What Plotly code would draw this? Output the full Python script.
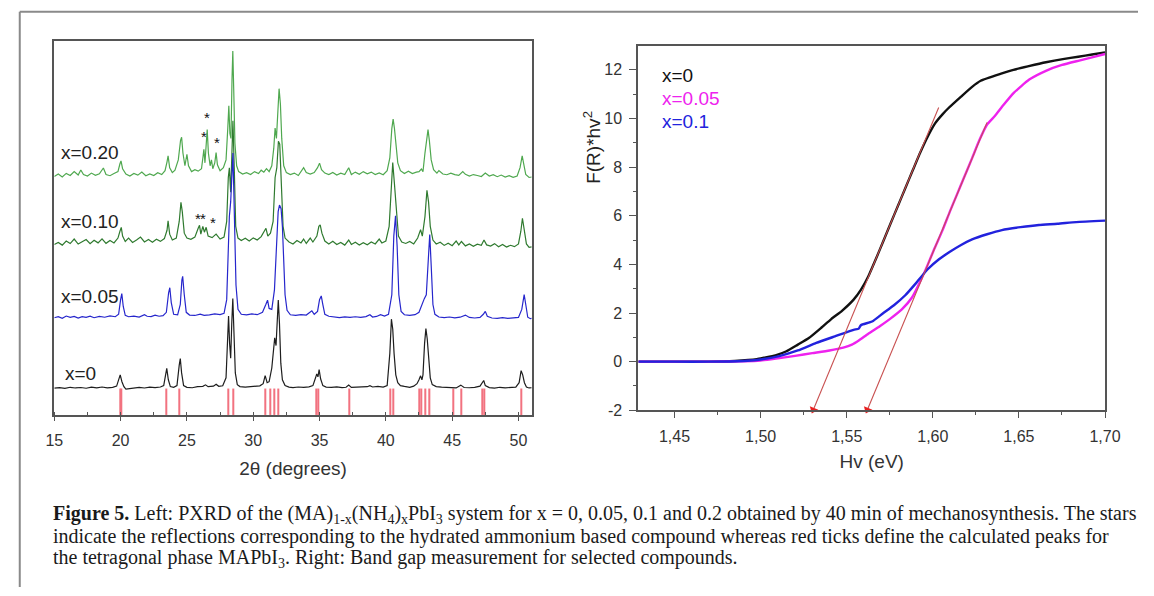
import math
import plotly.graph_objects as go

W, H = 1154, 596


def px2x(px):
    return px / W


def py2y(py):
    return 1 - py / H


# ---------------- Left panel: PXRD patterns (2theta, intensity in arbitrary units) ----------------
xrd_x0 = [(15.0, 24.5), (15.4, 25.0), (15.8, 24.2), (16.2, 25.3), (16.6, 24.6), (17.0, 25.1), (17.4, 24.3),
          (17.8, 25.4), (18.2, 24.8), (18.6, 25.6), (19.0, 24.7), (19.4, 25.2), (19.7, 26.5), (19.85, 32),
          (19.97, 38), (20.1, 31), (20.25, 26), (20.4, 23.5), (20.6, 24.0), (21.0, 24.8), (21.4, 25.3),
          (21.8, 24.6), (22.2, 25.4), (22.6, 24.9), (23.0, 25.6), (23.25, 27), (23.4, 38), (23.48, 44.7),
          (23.6, 33), (23.75, 26), (24.0, 25.3), (24.25, 27), (24.42, 48), (24.5, 54.7), (24.6, 40),
          (24.75, 27), (25.0, 25.2), (25.4, 24.8), (25.8, 25.9), (26.2, 26.3), (26.4, 27.8), (26.6, 25.9),
          (27.0, 26.5), (27.2, 28.5), (27.4, 26.3), (27.7, 26.8), (27.95, 35), (28.08, 80), (28.14, 98.3),
          (28.22, 70), (28.3, 55), (28.38, 90), (28.46, 116.1), (28.55, 80), (28.65, 40), (28.8, 28),
          (29.0, 26), (29.4, 25.4), (29.8, 25.9), (30.2, 26.1), (30.5, 26.8), (30.75, 29), (30.9, 37.3),
          (31.05, 30), (31.2, 31), (31.4, 45), (31.55, 70), (31.62, 75.9), (31.72, 68), (31.8, 95),
          (31.89, 114.5), (31.98, 90), (32.08, 50), (32.2, 33), (32.4, 27), (32.7, 25.5), (33.0, 25.0),
          (33.4, 25.6), (33.8, 25.2), (34.2, 25.8), (34.5, 27), (34.7, 35), (34.79, 39), (34.88, 36),
          (34.97, 43.3), (35.08, 34), (35.25, 27), (35.5, 25.5), (35.9, 25.2), (36.3, 25.8), (36.7, 25.0),
          (37.0, 25.3), (37.2, 27.5), (37.4, 25.2), (37.8, 25.4), (38.2, 25.0), (38.6, 25.9), (38.8, 27),
          (39.0, 25.6), (39.4, 26.3), (39.8, 25.5), (40.1, 27), (40.3, 60), (40.42, 95), (40.52, 85),
          (40.62, 60), (40.75, 38), (40.9, 30), (41.1, 27), (41.4, 26.2), (41.8, 25.3), (42.1, 26.5),
          (42.35, 29), (42.5, 33), (42.62, 37), (42.72, 33), (42.8, 38), (42.92, 70), (43.02, 85.3),
          (43.12, 75), (43.22, 55), (43.35, 35), (43.5, 28), (43.8, 26), (44.2, 25.4), (44.6, 25.0),
          (45.0, 25.3), (45.3, 24.6), (45.65, 27.5), (45.9, 25.1), (46.3, 24.8), (46.7, 25.2), (47.1, 26.5),
          (47.3, 31), (47.38, 32.2), (47.5, 27), (47.8, 25.0), (48.2, 24.5), (48.6, 25.3), (49.0, 24.7),
          (49.4, 25.0), (49.8, 25.5), (50.05, 30), (50.2, 42.3), (50.32, 38), (50.45, 30), (50.6, 25.5),
          (50.8, 24.6), (51.0, 24.8)]

xrd_x005 = [(15.0, 96.5), (15.3, 97.5), (15.6, 95.8), (15.9, 98.2), (16.2, 96.8), (16.5, 97.9), (16.8, 96.2),
            (17.1, 97.6), (17.4, 96.9), (17.7, 98.0), (18.0, 96.5), (18.4, 97.8), (18.8, 97.0), (19.2, 98.3),
            (19.6, 97.5), (19.85, 100), (20.0, 115), (20.09, 121.2), (20.2, 108), (20.35, 99), (20.6, 97.5),
            (21.0, 98.2), (21.4, 97.2), (21.8, 99.5), (22.0, 98), (22.3, 97.6), (22.6, 99.2), (22.9, 98),
            (23.2, 98.6), (23.45, 102), (23.62, 122), (23.71, 127.2), (23.82, 112), (24.0, 100), (24.3, 99.5),
            (24.5, 110), (24.62, 135), (24.68, 138.9), (24.8, 120), (24.95, 102), (25.2, 99.2), (25.6, 98.8),
            (26.0, 100.2), (26.3, 99), (26.7, 99.5), (27.1, 100.5), (27.5, 99.6), (27.8, 101), (28.0, 115),
            (28.12, 170), (28.2, 200), (28.3, 215), (28.4, 255), (28.47, 265), (28.58, 200), (28.7, 130),
            (28.85, 105), (29.1, 100), (29.5, 99.5), (29.9, 100.4), (30.3, 99.6), (30.7, 102), (30.95, 110),
            (31.08, 114.5), (31.2, 106), (31.4, 105), (31.6, 125), (31.75, 175), (31.88, 205), (31.98, 211.8),
            (32.1, 208), (32.2, 190), (32.3, 150), (32.4, 120), (32.55, 104), (32.8, 99.5), (33.2, 98.9),
            (33.6, 99.6), (34.0, 99.2), (34.3, 102), (34.42, 103.5), (34.6, 100), (34.85, 103), (35.0, 115),
            (35.13, 118.8), (35.25, 110), (35.4, 100), (35.7, 98.0), (36.1, 97.2), (36.5, 96.5), (36.9, 97.3),
            (37.3, 96.8), (37.7, 97.5), (38.1, 96.9), (38.5, 97.6), (38.8, 99.5), (39.0, 97.2), (39.3, 97.8),
            (39.6, 99.6), (39.9, 98.2), (40.2, 100), (40.45, 120), (40.6, 180), (40.73, 200.7), (40.85, 170),
            (40.98, 120), (41.15, 103), (41.4, 99.5), (41.8, 98.8), (42.2, 99.6), (42.5, 102), (42.75, 112),
            (42.9, 116), (43.05, 120), (43.18, 155), (43.31, 181.6), (43.42, 150), (43.55, 110), (43.7, 100),
            (44.0, 97.2), (44.4, 96.6), (44.8, 97.2), (45.2, 96.4), (45.6, 97.0), (46.0, 99.2), (46.3, 96.8),
            (46.7, 96.2), (47.1, 96.8), (47.35, 100), (47.5, 103), (47.65, 98), (48.0, 96.2), (48.4, 95.8),
            (48.8, 96.6), (49.2, 95.9), (49.6, 96.2), (50.0, 96.8), (50.25, 105), (50.43, 120.2), (50.55, 110),
            (50.7, 97), (50.9, 95.5), (51.0, 95.8)]

xrd_x010 = [(15.0, 171.5), (15.3, 173.5), (15.6, 170.8), (15.9, 175), (16.2, 172.4), (16.5, 177), (16.8, 171.9),
            (17.1, 174.5), (17.4, 176.5), (17.7, 172.2), (18.0, 175.8), (18.3, 173.1), (18.6, 177.2),
            (18.9, 172.6), (19.2, 175.5), (19.5, 173), (19.8, 178), (19.95, 185), (20.05, 189), (20.15, 180),
            (20.35, 174.5), (20.6, 178), (20.9, 173.5), (21.2, 176), (21.5, 179), (21.8, 174), (22.1, 176.5),
            (22.4, 173.8), (22.7, 176.8), (23.0, 174.6), (23.3, 177.5), (23.5, 186), (23.58, 195.7),
            (23.7, 182), (23.9, 176), (24.2, 178), (24.42, 195), (24.55, 214.5), (24.65, 205), (24.8, 183),
            (25.0, 178), (25.3, 176.8), (25.6, 179), (25.85, 188), (25.95, 191), (26.05, 182), (26.2, 190),
            (26.32, 184), (26.45, 189), (26.6, 180), (26.9, 178.5), (27.2, 182), (27.5, 177), (27.8, 179),
            (28.0, 195), (28.12, 240), (28.2, 250), (28.3, 225), (28.38, 270), (28.47, 298), (28.57, 250),
            (28.68, 190), (28.85, 178), (29.1, 175.5), (29.4, 177.8), (29.7, 175), (30.0, 178.2), (30.3, 176),
            (30.6, 179.5), (30.85, 185), (30.96, 188), (31.1, 180), (31.3, 183), (31.5, 195), (31.65, 240),
            (31.78, 250), (31.9, 277), (32.0, 274), (32.12, 230), (32.25, 190), (32.4, 178), (32.7, 174),
            (33.0, 172), (33.3, 175.5), (33.6, 173), (33.8, 177), (34.0, 172.5), (34.3, 178), (34.5, 174),
            (34.8, 180), (34.95, 190), (35.05, 191.6), (35.18, 183), (35.4, 175), (35.7, 172), (36.0, 174.8),
            (36.3, 171.5), (36.6, 173.5), (36.9, 170.8), (37.2, 176), (37.4, 171.5), (37.7, 173.8),
            (38.0, 170.9), (38.3, 173.2), (38.6, 171.2), (38.9, 174), (39.2, 172), (39.5, 177), (39.7, 173),
            (40.0, 175), (40.25, 190), (40.4, 230), (40.52, 255.4), (40.64, 235), (40.78, 205), (40.95, 180),
            (41.2, 174), (41.5, 172.5), (41.8, 174.6), (42.1, 172), (42.4, 178), (42.62, 186.6), (42.75, 180),
            (42.95, 200), (43.1, 226.9), (43.22, 215), (43.35, 190), (43.55, 176), (43.8, 172), (44.1, 173.8),
            (44.4, 170.5), (44.7, 172.8), (45.0, 170.2), (45.3, 175), (45.5, 171), (45.7, 174.5), (46.0, 170),
            (46.3, 172), (46.6, 169.5), (46.9, 171.8), (47.2, 170.6), (47.4, 176), (47.6, 171), (47.9, 169.8),
            (48.2, 172.3), (48.5, 169.2), (48.8, 171.5), (49.1, 168.8), (49.4, 170.6), (49.7, 169.2),
            (50.0, 172), (50.18, 185), (50.3, 198.3), (50.42, 188), (50.6, 172), (50.8, 168.5), (51.0, 169)]

xrd_x020 = [(15.0, 241), (15.3, 243.5), (15.6, 240.5), (15.9, 244.2), (16.2, 242), (16.5, 246), (16.8, 242.5),
            (17.0, 247.7), (17.2, 243), (17.5, 241.5), (17.8, 244.5), (18.1, 242.2), (18.4, 243.8),
            (18.7, 249.7), (18.9, 243), (19.2, 241.8), (19.5, 244), (19.8, 246), (19.95, 254), (20.03, 257),
            (20.15, 249), (20.4, 243.5), (20.7, 241.5), (21.0, 244.2), (21.3, 242.4), (21.6, 245.5),
            (21.9, 241.8), (22.2, 243.6), (22.5, 242), (22.8, 244.8), (23.1, 243), (23.35, 247), (23.5, 256),
            (23.58, 262.1), (23.7, 250), (23.9, 245), (24.1, 247.5), (24.35, 258), (24.52, 278), (24.6, 281.2),
            (24.7, 265), (24.85, 252), (25.0, 263.8), (25.12, 252), (25.35, 246), (25.6, 248), (25.85, 246.5),
            (26.1, 249), (26.22, 262), (26.28, 268.8), (26.36, 255), (26.45, 270), (26.53, 289), (26.62, 265),
            (26.75, 252), (26.85, 258), (26.95, 249), (27.1, 255), (27.2, 265.5), (27.3, 253), (27.5, 247),
            (27.75, 250), (27.95, 258), (28.08, 290), (28.16, 313.4), (28.24, 285), (28.32, 280), (28.4, 340),
            (28.46, 369.5), (28.53, 330), (28.62, 275), (28.75, 252), (28.9, 246), (29.2, 243.5), (29.5, 245),
            (29.8, 243), (30.1, 246), (30.4, 244), (30.6, 247.5), (30.8, 245.5), (31.0, 249), (31.2, 246),
            (31.4, 252), (31.55, 270), (31.65, 290.6), (31.75, 280), (31.85, 310), (31.95, 330.9), (32.05, 315),
            (32.15, 280), (32.3, 252), (32.5, 245), (32.8, 243), (33.1, 244.5), (33.4, 242), (33.6, 246),
            (33.8, 250), (34.0, 245), (34.3, 243.5), (34.6, 245), (34.85, 250), (35.0, 254.7), (35.15, 248),
            (35.4, 244.5), (35.7, 243), (36.0, 245.2), (36.3, 242.5), (36.6, 244.4), (36.9, 243), (37.2, 250),
            (37.4, 243), (37.7, 245.5), (38.0, 243.2), (38.3, 246), (38.6, 243.8), (38.9, 245.5), (39.2, 243),
            (39.5, 244.6), (39.8, 242.8), (40.1, 247), (40.3, 260), (40.45, 290), (40.55, 299.7), (40.65, 290),
            (40.78, 275), (40.9, 255), (41.1, 247), (41.4, 244), (41.7, 246.5), (42.0, 244), (42.3, 245.5),
            (42.5, 246), (42.68, 248.7), (42.8, 246), (42.95, 265), (43.1, 285), (43.18, 289), (43.28, 278),
            (43.42, 258), (43.6, 248), (43.85, 244.5), (44.0, 247), (44.3, 243.5), (44.6, 242.8), (44.9, 244.5),
            (45.2, 243), (45.5, 242.2), (45.8, 246), (46.0, 243.2), (46.3, 241.5), (46.6, 243), (46.9, 242),
            (47.2, 241), (47.5, 244.5), (47.8, 241.5), (48.1, 242.8), (48.4, 240.8), (48.7, 242.5), (49.0, 240.5),
            (49.3, 241.8), (49.6, 240.2), (49.9, 241.5), (50.12, 250), (50.28, 262.1), (50.4, 255),
            (50.55, 243), (50.8, 240), (51.0, 240.5)]

# calculated reflections of tetragonal MAPbI3 (red ticks)
ref_ticks = [19.95, 20.05, 23.45, 24.45, 28.12, 28.5, 30.91, 31.31, 31.62, 31.89, 34.79, 34.92, 37.22,
             40.33, 40.59, 42.52, 42.65, 42.97, 43.31, 45.08, 45.72, 47.3, 47.45, 50.24]
ref_tick_height = 24.0

xrd_labels = ["x=0.20", "x=0.10", "x=0.05", "x=0"]
xrd_label_pos = [(15.35, 266), (15.35, 195), (15.35, 118), (15.65, 39)]

stars = [(26.27, 282), (26.55, 301), (27.3, 275.5), (25.85, 198), (26.2, 198), (26.95, 193.5)]

xrd_ticks = [15, 20, 25, 30, 35, 40, 45, 50]

# ---------------- Right panel: band gap ----------------
bg_x0 = [(1.429, 0), (1.45, 0), (1.47, 0.0), (1.485, 0.03), (1.4978, 0.1), (1.502, 0.16), (1.5086, 0.26),
         (1.515, 0.43), (1.5216, 0.7), (1.528, 0.97), (1.5345, 1.35), (1.541, 1.75), (1.5474, 2.1),
         (1.554, 2.55), (1.5582, 2.95), (1.5625, 3.5), (1.5668, 4.2), (1.5711, 4.93), (1.5754, 5.67),
         (1.5797, 6.4), (1.584, 7.13), (1.5884, 7.88), (1.5927, 8.6), (1.597, 9.25), (1.6013, 9.8),
         (1.6056, 10.17), (1.609, 10.42), (1.6164, 10.9), (1.6228, 11.3), (1.6278, 11.55), (1.6401, 11.85),
         (1.6468, 12.0), (1.6557, 12.15), (1.6657, 12.31), (1.6755, 12.44), (1.6845, 12.54), (1.6925, 12.63),
         (1.70, 12.72)]

bg_x005 = [(1.429, 0), (1.45, 0), (1.47, 0.0), (1.49, 0.02), (1.50, 0.05), (1.51, 0.14), (1.52, 0.24),
           (1.53, 0.35), (1.54, 0.46), (1.548, 0.58), (1.553, 0.7), (1.557, 0.87), (1.5625, 1.15),
           (1.569, 1.45), (1.575, 1.75), (1.582, 2.15), (1.588, 2.65), (1.5937, 3.45), (1.597, 3.98),
           (1.601, 4.66), (1.6056, 5.4), (1.61, 6.19), (1.614, 6.87), (1.618, 7.55), (1.623, 8.4),
           (1.627, 9.1), (1.6315, 9.75), (1.636, 10.1), (1.641, 10.55), (1.647, 11.05), (1.656, 11.6),
           (1.666, 11.97), (1.675, 12.2), (1.685, 12.38), (1.693, 12.52), (1.70, 12.65)]

bg_x01 = [(1.429, 0), (1.45, 0), (1.47, 0.0), (1.49, 0.03), (1.4978, 0.07), (1.5108, 0.23), (1.5216, 0.46),
          (1.5323, 0.77), (1.5431, 1.04), (1.554, 1.31), (1.557, 1.36), (1.5582, 1.5), (1.5647, 1.65),
          (1.5711, 1.99), (1.5776, 2.33), (1.584, 2.73), (1.5905, 3.25), (1.597, 3.8), (1.6034, 4.2),
          (1.6099, 4.52), (1.6164, 4.8), (1.6228, 5.03), (1.6315, 5.24), (1.6401, 5.41), (1.6509, 5.53),
          (1.6616, 5.62), (1.6724, 5.67), (1.6832, 5.74), (1.70, 5.8)]

tangent_start = [(1.6034, 10.45), (1.6315, 9.84)]
tangent_end = [(1.5306, -1.98), (1.5620, -1.98)]

bg_labels = ["x=0", "x=0.05", "x=0.1"]
bg_label_y = [11.77, 10.82, 9.88]
bg_label_x = 1.4418

bg_xticks = [1.45, 1.50, 1.55, 1.60, 1.65, 1.70]
bg_xticktext = ["1,45", "1,50", "1,55", "1,60", "1,65", "1,70"]
bg_yticks = [-2, 0, 2, 4, 6, 8, 10, 12]
bg_yticktext = ["-2", "0", "2", "4", "6", "8", "10", "12"]

# ---------------- Figure ----------------
FONT = "Liberation Sans, Arial, sans-serif"
AXC = "#555555"
XRD_YMIN, XRD_YMAX = -3.0, 379.6
X1_DOM = [px2x(46.3), px2x(534.3)]
Y1_DOM = [py2y(421.3), py2y(41.7)]
X2_RANGE = [1.429, 1.70]
Y2_RANGE = [-2, 12.98]
X2_DOM = [px2x(643.3), px2x(1120.3)]
Y2_DOM = [py2y(416.6), py2y(46.7)]

fig = go.Figure()


def unzip(pairs):
    return [p[0] for p in pairs], [p[1] for p in pairs]


# red reference ticks
fig.add_trace(go.Bar(x=ref_ticks, y=[ref_tick_height - XRD_YMIN] * len(ref_ticks), base=XRD_YMIN,
                     width=0.09, marker=dict(color="#f05a6a", line=dict(width=0)), opacity=0.85,
                     xaxis="x", yaxis="y", showlegend=False, hoverinfo="skip"))

for pairs, col in [(xrd_x0, "#1e1e1e"), (xrd_x010, "#2f7a2f"), (xrd_x005, "#2626cc"), (xrd_x020, "#4fa84f")]:
    xs, ys = unzip(pairs)
    fig.add_trace(go.Scatter(x=xs, y=ys, mode="lines", line=dict(color=col, width=1.2),
                             xaxis="x", yaxis="y", showlegend=False))

for pairs, col in [(bg_x0, "#111111"), (bg_x005, "#ee22ee"), (bg_x01, "#2222dd")]:
    xs, ys = unzip(pairs)
    fig.add_trace(go.Scatter(x=xs, y=ys, mode="lines", line=dict(color=col, width=2.4, shape="spline",
                                                                 smoothing=0.5),
                             xaxis="x2", yaxis="y2", showlegend=False))

# tangent lines with arrow heads
px_per_x = (X2_DOM[1] - X2_DOM[0]) * W / (X2_RANGE[1] - X2_RANGE[0])
px_per_y = (Y2_DOM[1] - Y2_DOM[0]) * H / (Y2_RANGE[1] - Y2_RANGE[0])
for (sx, sy), (ex, ey) in zip(tangent_start, tangent_end):
    fig.add_trace(go.Scatter(x=[sx, ex], y=[sy, ey], mode="lines", line=dict(color="#c85050", width=1.1),
                             xaxis="x2", yaxis="y2", showlegend=False, hoverinfo="skip"))
    ang = math.degrees(math.atan2((sx - ex) * px_per_x, (sy - ey) * px_per_y))
    fig.add_trace(go.Scatter(x=[ex], y=[ey], mode="markers",
                             marker=dict(symbol="triangle-down", size=8, color="#e82020", angle=ang,
                                         line=dict(width=0)),
                             xaxis="x2", yaxis="y2", showlegend=False, hoverinfo="skip", cliponaxis=False))

annotations = []
for txt, (xx, yy) in zip(xrd_labels, xrd_label_pos):
    annotations.append(dict(x=xx, y=yy, xref="x", yref="y", text=txt, showarrow=False, xanchor="left",
                            yanchor="middle", font=dict(family=FONT, size=19, color="#222")))
for (xx, yy) in stars:
    annotations.append(dict(x=xx, y=yy, xref="x", yref="y", text="*", showarrow=False, xanchor="center",
                            yanchor="middle", font=dict(family=FONT, size=15, color="#111")))

for txt, yy, col in zip(bg_labels, bg_label_y, ["#111111", "#ee22ee", "#2222dd"]):
    annotations.append(dict(x=bg_label_x, y=yy, xref="x2", yref="y2", text=txt, showarrow=False,
                            xanchor="left", yanchor="middle", font=dict(family=FONT, size=19, color=col)))

annotations.append(dict(x=px2x(596), y=py2y(150), xref="paper", yref="paper", text="F(R)*hv<sup>2</sup>",
                        textangle=-90, showarrow=False, xanchor="center", yanchor="middle",
                        font=dict(family=FONT, size=19, color="#222")))

caption = [
    "<b>Figure 5.</b> Left: PXRD of the (MA)<sub>1-x</sub>(NH<sub>4</sub>)<sub>x</sub>PbI<sub>3</sub> system for x = 0, 0.05, 0.1 and 0.2 obtained by 40 min of mechanosynthesis. The stars",
    "indicate the reflections corresponding to the hydrated ammonium based compound whereas red ticks define the calculated peaks for",
    "the tetragonal phase MAPbI<sub>3</sub>. Right: Band gap measurement for selected compounds.",
]
caption_y = [522, 545, 567]
for line, yy in zip(caption, caption_y):
    annotations.append(dict(x=px2x(43), y=py2y(yy), xref="paper", yref="paper", text=line, showarrow=False,
                            xanchor="left", yanchor="middle",
                            font=dict(family="Liberation Serif, Times New Roman, serif", size=20, color="#1a1a1a")))

shapes = [
    dict(type="line", xref="paper", yref="paper", x0=px2x(11), x1=px2x(11), y0=0, y1=py2y(12),
         line=dict(color="#8a8a8a", width=2)),
    dict(type="line", xref="paper", yref="paper", x0=px2x(11), x1=1, y0=py2y(12), y1=py2y(12),
         line=dict(color="#8a8a8a", width=2)),
]

fig.update_layout(
    width=W, height=H, margin=dict(l=0, r=0, t=0, b=0, pad=0), paper_bgcolor="white", plot_bgcolor="white",
    showlegend=False, barmode="overlay", annotations=annotations, shapes=shapes,
    xaxis=dict(domain=X1_DOM, range=[15, 51], tickvals=xrd_ticks, ticks="outside", ticklen=4,
               tickwidth=1.3, tickcolor=AXC, showline=True, linecolor=AXC, linewidth=2, mirror=True,
               showgrid=False, zeroline=False, tickfont=dict(family=FONT, size=16, color="#333"),
               ticklabelstandoff=6,
               minor=dict(dtick=2.5, ticks="inside", ticklen=3, tickcolor=AXC),
               title=dict(text="2θ (degrees)", font=dict(family=FONT, size=19, color="#333"), standoff=14)),
    yaxis=dict(domain=Y1_DOM, range=[XRD_YMIN, XRD_YMAX], showticklabels=False,
               ticks="", showline=True, linecolor=AXC, linewidth=2, mirror=True, showgrid=False, zeroline=False),
    xaxis2=dict(domain=X2_DOM, range=X2_RANGE, tickvals=bg_xticks, ticktext=bg_xticktext,
                ticks="outside", ticklen=6, tickwidth=1.3, tickcolor=AXC, showline=True, linecolor=AXC,
                linewidth=2, mirror=True, showgrid=False, zeroline=False, anchor="y2",
                tickfont=dict(family=FONT, size=16, color="#333"), ticklabelstandoff=4,
                minor=dict(dtick=0.025, tick0=1.425, ticks="outside", ticklen=3, tickcolor=AXC),
                title=dict(text="Hv (eV)", font=dict(family=FONT, size=19, color="#333"), standoff=11)),
    yaxis2=dict(domain=Y2_DOM, range=Y2_RANGE, tickvals=bg_yticks, ticktext=bg_yticktext, ticks="outside",
                ticklen=7, tickwidth=1.3, tickcolor=AXC, showline=True, linecolor=AXC, linewidth=2, mirror=True,
                showgrid=False, zeroline=False, anchor="x2", tickfont=dict(family=FONT, size=16, color="#333"),
                ticklabelstandoff=4,
                minor=dict(dtick=1, ticks="outside", ticklen=3, tickcolor=AXC)),
)

fig.write_html("out.html", config={"displayModeBar": False},
               post_script="document.body.style.margin='0';document.body.style.overflow='hidden';")
